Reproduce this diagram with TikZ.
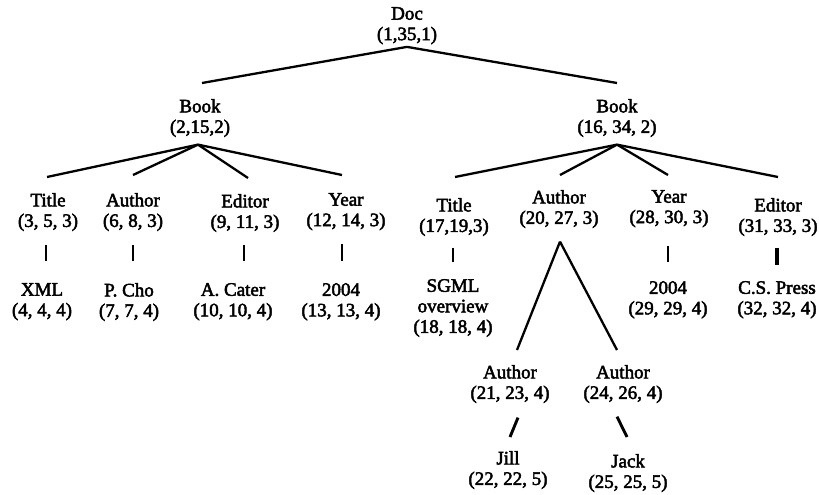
\documentclass[tikz,border=0pt]{standalone}
\usepackage{fontspec}
\setmainfont{Liberation Serif}
\newfontfamily\lblfont{Liberation Serif}[FakeBold=2.5]
\begin{document}
\begin{tikzpicture}[x=1pt,y=-1pt,
  lbl/.style={align=center,inner sep=0pt,anchor=north,font=\lblfont\fontsize{19}{20.5}\selectfont},
  edge/.style={line width=2.3pt},
  bar/.style={line width=2.9pt}]
\fill[white] (0,0) rectangle (819,495);
\useasboundingbox (0,0) rectangle (819,495);
% level 1
\node[lbl] (doc) at (407,7) {Doc\\(1,35,1)};
% level 2
\node[lbl] (bookL) at (200,99) {Book\\(2,15,2)};
\node[lbl] (bookR) at (617,99) {Book\\(16, 34, 2)};
% level 3 left
\node[lbl] (titleA) at (48,193) {Title\\(3, 5, 3)};
\node[lbl] (authA) at (133,193) {Author\\(6, 8, 3)};
\node[lbl] (editA) at (245,194) {Editor\\(9, 11, 3)};
\node[lbl] (yearA) at (346,193) {Year\\(12, 14, 3)};
% level 3 right
\node[lbl] (titleB) at (454,198) {Title\\(17,19,3)};
\node[lbl] (authB) at (559,190) {Author\\(20, 27, 3)};
\node[lbl] (yearB) at (669,190) {Year\\(28, 30, 3)};
\node[lbl] (editB) at (778,198) {Editor\\(31, 33, 3)};
% level 4 left
\node[lbl] (xml) at (42,283) {XML\\(4, 4, 4)};
\node[lbl] (cho) at (129,283) {P. Cho\\(7, 7, 4)};
\node[lbl] (cater) at (233,283) {A. Cater\\(10, 10, 4)};
\node[lbl] (yrA) at (341,283) {2004\\(13, 13, 4)};
% level 4 right
\node[lbl] (sgml) at (453,279) {SGML\\overview\\(18, 18, 4)};
\node[lbl] (yrB) at (668,281) {2004\\(29, 29, 4)};
\node[lbl] (csp) at (777,281) {C.S. Press\\(32, 32, 4)};
\node[lbl] (authC) at (510,365) {Author\\(21, 23, 4)};
\node[lbl] (authD) at (623,365) {Author\\(24, 26, 4)};
% level 5
\node[lbl] (jill) at (508,451) {Jill\\(22, 22, 5)};
\node[lbl] (jack) at (628,454) {Jack\\(25, 25, 5)};
% apex points
\coordinate (docx) at ([shift={(0,2.5)}]doc.south);
\coordinate (bookLx) at ([shift={(-2,7.5)}]bookL.south);
\coordinate (bookRx) at ([shift={(0,7.5)}]bookR.south);
\coordinate (authBx) at ([shift={(1,13.5)}]authB.south);
% connectors
\draw[edge] (docx) -- ([shift={(2,-16)}]bookL.north);
\draw[edge] (docx) -- ([shift={(0,-16)}]bookR.north);
\draw[edge] (bookLx) -- ([shift={(-1,-16)}]titleA.north);
\draw[edge] (bookLx) -- ([shift={(0,-18)}]authA.north);
\draw[edge] (bookLx) -- ([shift={(3,-16)}]editA.north);
\draw[edge] (bookLx) -- ([shift={(-4,-18)}]yearA.north);
\draw[edge] (bookRx) -- ([shift={(1,-21)}]titleB.north);
\draw[edge] (bookRx) -- ([shift={(1,-15)}]authB.north);
\draw[edge] (bookRx) -- ([shift={(-1,-15)}]yearB.north);
\draw[edge] (bookRx) -- ([shift={(0,-21)}]editB.north);
\draw[edge] (authBx) -- ([shift={(7,-15)}]authC.north);
\draw[edge] (authBx) -- ([shift={(-6,-15)}]authD.north);
% short bars
\draw[bar] ([shift={(-2,13.5)}]titleA.south) -- ([shift={(4,-22)}]xml.north);
\draw[bar] ([shift={(0,13.5)}]authA.south) -- ([shift={(4,-22)}]cho.north);
\draw[bar] ([shift={(-1,12.5)}]editA.south) -- ([shift={(11,-22)}]cater.north);
\draw[bar] ([shift={(-4,13.5)}]yearA.south) -- ([shift={(1,-22)}]yrA.north);
\draw[bar] ([shift={(-1,11.5)}]titleB.south) -- ([shift={(0,-17)}]sgml.north);
\draw[bar] ([shift={(-1,18.5)}]yearB.south) -- ([shift={(0,-19)}]yrB.north);
\draw[bar,line width=3.4pt] ([shift={(-1,11.5)}]editB.south) -- ([shift={(0,-16)}]csp.north);
\draw[bar] ([shift={(8,14.5)}]authC.south) -- ([shift={(2,-14)}]jill.north);
\draw[bar] ([shift={(-6,13.5)}]authD.south) -- ([shift={(-1,-17)}]jack.north);
\end{tikzpicture}
\end{document}
